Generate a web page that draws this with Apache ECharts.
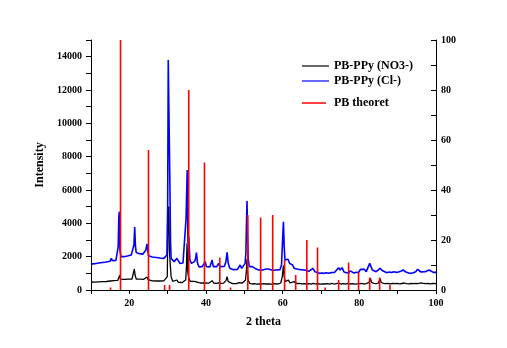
<!DOCTYPE html>
<html>
<head>
<meta charset="utf-8">
<script src="https://cdn.jsdelivr.net/npm/echarts@6/dist/echarts.min.js"></script>
<style>
  html, body { margin: 0; padding: 0; background: #fff; }
  #chart { width: 507px; height: 348px; }
</style>
</head>
<body>
<div id="chart"></div>
<script>
// XRD pattern of PB-PPy (NO3-) sample: [2 theta, intensity]
const nitrate = [
  [10.0,480],[10.5,500],[11.0,470],[11.5,510],[12.0,490],[12.5,520],[13.0,500],[13.5,530],
  [14.0,510],[14.5,560],[15.0,540],[15.5,580],[16.0,560],[16.5,590],[17.0,580],[17.3,760],
  [17.5,900],[17.7,650],[18.2,620],[18.7,640],[19.2,620],[19.7,650],[20.2,640],[20.7,660],
  [21.1,700],[21.3,1260],[21.5,900],[21.8,660],[22.3,640],[22.8,650],[23.3,620],[23.8,640],
  [24.3,660],[24.6,780],[24.9,620],[25.4,560],[26.0,550],[26.5,570],[27.0,540],[27.5,560],
  [28.0,540],[28.5,560],[29.0,550],[29.5,560],[29.9,800],[30.1,4700],[30.3,5000],[30.45,2400],
  [30.65,1600],[30.9,800],[31.3,520],[31.8,480],[32.4,600],[32.8,460],[33.3,470],[33.8,450],
  [34.3,470],[34.7,600],[34.9,1400],[35.05,2800],[35.25,1100],[35.5,700],[35.9,520],[36.4,480],
  [37.0,520],[37.5,640],[37.9,460],[38.5,420],[39.0,400],[39.6,420],[40.1,390],[40.7,410],
  [41.2,420],[41.6,560],[42.0,420],[42.6,400],[43.2,430],[43.6,480],[44.0,400],[44.6,410],
  [45.2,560],[45.5,800],[45.8,500],[46.3,400],[46.9,380],[47.4,400],[48.0,380],[48.6,440],
  [49.0,500],[49.5,420],[50.0,400],[50.3,600],[50.55,1200],[50.7,1860],[50.85,1000],[51.0,600],
  [51.4,400],[52.0,360],[52.6,380],[53.2,350],[53.8,370],[54.4,350],[55.0,380],[55.6,360],
  [56.0,420],[56.5,360],[57.1,350],[57.7,380],[58.3,360],[58.9,370],[59.5,420],[59.9,800],
  [60.2,1460],[60.4,800],[60.7,500],[61.1,420],[61.5,600],[61.9,420],[62.4,400],[62.9,500],
  [63.3,400],[63.8,380],[64.4,400],[65.0,370],[65.6,380],[66.2,360],[66.8,380],[67.4,350],
  [68.0,400],[68.6,360],[69.2,380],[69.8,350],[70.4,370],[71.0,360],[71.6,380],[72.2,350],
  [72.8,400],[73.4,360],[74.0,380],[74.6,420],[75.2,360],[75.8,380],[76.4,350],[77.0,400],
  [77.6,360],[78.2,380],[78.8,350],[79.4,370],[80.0,380],[80.6,400],[81.2,360],[81.8,380],
  [82.5,450],[82.9,700],[83.2,450],[83.8,400],[84.4,380],[85.0,420],[85.4,700],[85.7,450],
  [86.3,400],[86.9,380],[87.5,400],[88.1,370],[88.7,390],[89.3,380],[89.9,400],[90.5,370],
  [91.1,390],[91.7,420],[92.3,380],[92.9,370],[93.5,390],[94.1,380],[94.7,400],[95.3,380],
  [95.9,420],[96.3,500],[96.7,400],[97.3,380],[97.9,390],[98.5,370],[99.2,400],[100.0,380]
];

// XRD pattern of PB-PPy (Cl-) sample: [2 theta, intensity]
const chloride = [
  [10.0,1550],[10.5,1600],[11.0,1580],[11.5,1640],[12.0,1620],[12.5,1680],[13.0,1650],[13.5,1700],
  [14.0,1680],[14.5,1740],[15.0,1720],[15.3,1900],[15.6,1760],[16.0,1720],[16.5,1780],[16.9,1850],
  [17.1,2600],[17.25,4400],[17.4,4700],[17.55,2400],[17.8,2000],[18.2,1960],[18.6,2000],[19.0,1980],
  [19.5,2040],[20.0,2050],[20.5,2100],[20.9,2150],[21.2,2700],[21.4,3780],[21.6,2600],[21.8,2250],
  [22.2,2200],[22.6,2180],[23.0,2200],[23.5,2150],[24.0,2200],[24.3,2400],[24.6,2760],[24.8,2400],
  [25.0,2050],[25.5,2000],[26.0,1980],[26.5,1940],[27.0,1950],[27.5,1900],[28.0,1920],[28.5,1880],
  [29.0,1900],[29.5,1920],[29.8,2100],[30.0,5000],[30.15,13800],[30.35,13700],[30.55,6900],[30.75,2800],
  [30.9,1900],[31.3,1800],[31.7,1700],[32.0,1800],[32.4,1900],[32.8,1750],[33.2,1600],[33.6,1550],
  [34.0,1620],[34.5,1650],[34.8,4300],[35.1,7200],[35.3,2800],[35.5,3200],[35.8,1800],[36.2,1600],
  [36.6,1650],[37.0,1700],[37.3,1900],[37.5,2240],[37.8,1600],[38.2,1380],[38.6,1350],[39.0,1400],
  [39.4,1350],[39.8,1700],[40.1,1400],[40.6,1320],[41.0,1380],[41.3,1500],[41.6,1800],[41.9,1400],
  [42.4,1360],[42.8,1400],[43.3,1600],[43.7,1400],[44.2,1360],[44.8,1420],[45.2,1700],[45.5,2260],
  [45.8,1600],[46.2,1300],[46.7,1240],[47.2,1220],[47.7,1260],[48.2,1240],[48.6,1350],[48.9,1500],
  [49.3,1300],[49.8,1350],[50.2,1600],[50.4,2200],[50.55,3900],[50.7,5340],[50.85,3300],[51.0,1900],
  [51.3,1400],[51.7,1320],[52.1,1400],[52.5,1320],[52.9,1280],[53.3,1250],[53.8,1200],[54.3,1240],
  [54.8,1200],[55.3,1220],[55.7,1260],[56.0,1380],[56.3,1260],[56.8,1200],[57.3,1180],[57.8,1220],
  [58.3,1200],[58.8,1180],[59.3,1220],[59.7,1500],[60.0,3100],[60.2,4100],[60.4,2600],[60.6,1800],
  [61.0,1700],[61.4,1840],[61.8,1600],[62.2,1700],[62.6,1500],[63.0,1300],[63.3,1380],[63.7,1260],
  [64.2,1200],[64.7,1220],[65.2,1180],[65.7,1200],[66.2,1100],[66.8,1120],[67.3,1150],[67.9,1300],
  [68.4,1100],[69.0,1050],[69.6,1000],[70.2,1020],[70.8,1000],[71.4,1040],[72.0,1000],[72.6,1040],
  [73.0,1140],[73.5,1050],[74.0,1100],[74.6,1340],[75.0,1200],[75.5,1340],[76.0,1080],[76.6,1040],
  [77.2,1020],[77.6,1150],[78.0,1040],[78.6,1020],[79.2,1060],[79.8,1050],[80.3,1240],[80.8,1150],
  [81.3,1240],[81.8,1100],[82.3,1200],[82.7,1600],[83.0,1660],[83.4,1200],[83.9,1100],[84.4,1100],
  [84.9,1150],[85.4,1300],[85.7,1400],[86.1,1150],[86.6,1060],[87.2,1040],[87.8,1080],[88.4,1050],
  [89.0,1100],[89.6,1060],[90.2,1080],[90.8,1120],[91.4,1200],[91.8,1180],[92.3,1060],[92.9,1020],
  [93.5,1000],[94.1,1040],[94.7,1100],[95.2,1240],[95.6,1150],[96.1,1080],[96.6,1120],[97.2,1100],
  [97.7,1150],[98.2,1200],[98.7,1120],[99.3,1060],[100.0,1060]
];

// Theoretical Prussian blue reflections: [2 theta, relative intensity %]
const theoretical = [
  [15.1,1],[17.7,100],[25.0,56],[29.2,2],[30.5,2],[35.5,80],[39.6,51],[43.6,13],
  [46.4,1],[50.9,30],[54.25,29],[57.4,30],[60.5,12],[63.4,6],[66.3,20],[69.1,17],
  [71.1,1],[74.6,4],[77.2,11],[79.8,7],[82.7,5],[85.3,5],[88.0,2]
];

const seriesNames = ['PB-PPy (NO3-)', 'PB-PPy (Cl-)', 'PB theoret'];

const FONT = '"Liberation Serif", "Times New Roman", serif';
const labelStyle = { fontFamily: FONT, fontWeight: 'bold', fontSize: 10, color: '#000' };
const axisLine = { show: true, lineStyle: { color: '#000', width: 1 } };
const legendText = { fontFamily: FONT, fontWeight: 'bold', fontSize: 12, color: '#000', padding: [0, 0, 0, 0] };

const chart = echarts.init(document.getElementById('chart'), null, { renderer: 'canvas' });

chart.setOption({
  backgroundColor: '#fff',
  animation: false,
  grid: { left: 91, right: 71, top: 40, bottom: 58 },
  legend: [
    {
      data: [
        { name: seriesNames[0], icon: 'rect' },
        { name: seriesNames[1], icon: 'rect' }
      ],
      orient: 'vertical', left: 297, top: 55,
      itemWidth: 27, itemHeight: 1.2, itemGap: 3,
      textStyle: legendText
    },
    {
      data: [{ name: seriesNames[2], icon: 'rect' }],
      orient: 'vertical', left: 297, top: 92,
      itemWidth: 24, itemHeight: 1.5,
      textStyle: Object.assign({}, legendText, { padding: [0, 0, 0, 3] })
    }
  ],
  xAxis: {
    type: 'value', min: 10, max: 100, interval: 10,
    name: '2 theta', nameLocation: 'middle', nameGap: 26,
    nameTextStyle: { fontFamily: FONT, fontWeight: 'bold', fontSize: 12, color: '#000' },
    axisLine: axisLine,
    axisTick: { show: true, length: 4, lineStyle: { color: '#000' } },
    axisLabel: Object.assign({ margin: 8, formatter: v => (v % 20 === 0 ? v : '') }, labelStyle),
    splitLine: { show: false }
  },
  yAxis: [
    {
      type: 'value', min: 0, max: 15000, interval: 1000,
      name: 'Intensity', nameLocation: 'middle', nameGap: 38,
      nameTextStyle: { fontFamily: FONT, fontWeight: 'bold', fontSize: 12, color: '#000' },
      axisLine: axisLine,
      axisTick: { show: true, length: 5, lineStyle: { color: '#000' } },
      axisLabel: Object.assign({ margin: 9, formatter: v => (v % 2000 === 0 ? v : '') }, labelStyle),
      splitLine: { show: false }
    },
    {
      type: 'value', min: 0, max: 100, interval: 10, position: 'right',
      axisLine: axisLine,
      axisTick: { show: true, inside: true, length: 5, lineStyle: { color: '#000' } },
      axisLabel: Object.assign({ margin: 5, formatter: v => (v % 20 === 0 ? v : '') }, labelStyle),
      splitLine: { show: false }
    }
  ],
  series: [
    {
      name: seriesNames[0], type: 'line', data: nitrate, yAxisIndex: 0,
      symbol: 'none', color: '#000', lineStyle: { color: '#000', width: 1.3 }
    },
    {
      name: seriesNames[1], type: 'line', data: chloride, yAxisIndex: 0,
      symbol: 'none', color: '#0000ff', lineStyle: { color: '#0000ff', width: 1.6 }
    },
    {
      name: seriesNames[2], type: 'bar', data: theoretical, yAxisIndex: 1,
      barWidth: 1.6, color: '#ff0000', itemStyle: { color: '#ff0000' }, z: 5
    }
  ]
});
</script>
</body>
</html>
